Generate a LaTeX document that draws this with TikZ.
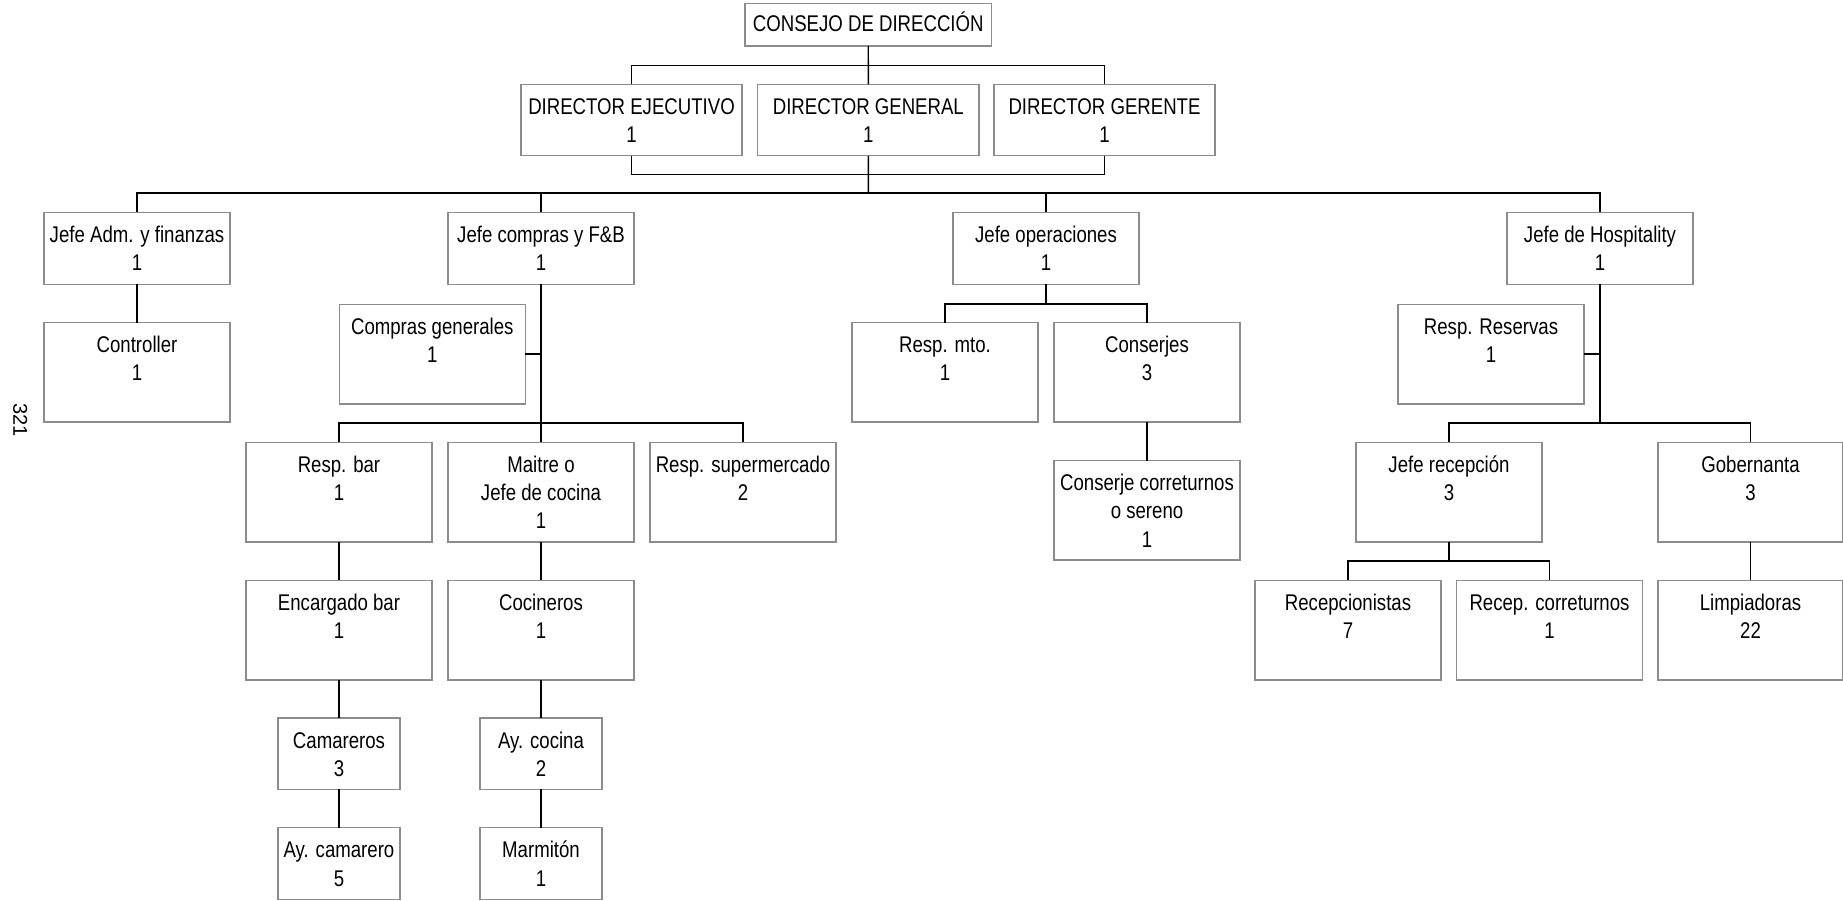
\documentclass[tikz,border=0pt]{standalone}
\usepackage{fontspec}
\setmainfont{Liberation Sans}[FakeStretch=0.82]
\newfontfamily\pagefont{Liberation Sans}
\usetikzlibrary{calc}
\definecolor{boxgray}{RGB}{140,140,140}

% org-chart box: name, left x, top y, width, height, text (top aligned)
\newcommand\orgbox[6]{%
  \node[obox, anchor=north west] (#1) at (#2,#3)
    {\parbox[t][#5pt][t]{#4pt}{\centering\rule{0pt}{30pt}#6}};}

\begin{document}
\begin{tikzpicture}[x=1pt, y=-1pt,
  obox/.style={draw=boxgray, line width=1.3pt, inner sep=0pt, outer sep=0pt,
               font=\fontsize{22.7}{28.2}\selectfont},
  conn/.style={draw=black, line width=1.4pt}]
\useasboundingbox (0,0) rectangle (1843,901);

% top levels
\node[obox, anchor=north west] (consejo) at (745,3.3)
  {\parbox[t][42.7pt][t]{246.5pt}{\centering\rule{0pt}{28.4pt}CONSEJO DE DIRECCIÓN}};
\orgbox{de}{521}{84.3}{221}{71.5}{DIRECTOR EJECUTIVO\\1}
\orgbox{dg}{757.7}{84.3}{221.3}{71.5}{DIRECTOR GENERAL\\1}
\orgbox{dger}{994}{84.3}{221}{71.5}{DIRECTOR GERENTE\\1}

% department heads
\orgbox{jadm}{44}{212.3}{186}{72}{Jefe Adm. y finanzas\\1}
\orgbox{jcomp}{448}{212.3}{186}{72}{Jefe compras y F\&B\\1}
\orgbox{jop}{953}{212.3}{186}{72}{Jefe operaciones\\1}
\orgbox{jhosp}{1507}{212.3}{186}{72}{Jefe de Hospitality\\1}

% administration
\orgbox{ctrl}{44}{322.6}{186}{99.4}{Controller\\1}

% purchasing and F&B
\orgbox{cg}{339.3}{304.3}{186}{99.7}{Compras generales\\1}
\orgbox{rbar}{246}{442.3}{186}{99.7}{Resp. bar\\1}
\orgbox{maitre}{448}{442.3}{186}{99.7}{Maitre o\\Jefe de cocina\\1}
\orgbox{rsup}{650}{442.3}{186}{99.7}{Resp. supermercado\\2}
\orgbox{ebar}{246}{580.3}{186}{99.7}{Encargado bar\\1}
\orgbox{coc}{448}{580.3}{186}{99.7}{Cocineros\\1}
\orgbox{cam}{278}{718}{122}{71.4}{Camareros\\3}
\orgbox{aycoc}{480}{718}{122}{71.4}{Ay. cocina\\2}
\orgbox{aycam}{278}{827.8}{122}{71.6}{Ay. camarero\\5}
\orgbox{marm}{480}{827.8}{122}{71.6}{Marmitón\\1}

% operations
\orgbox{rmto}{852}{322.7}{186}{99.3}{Resp. mto.\\1}
\orgbox{consj}{1054}{322.7}{186}{99.3}{Conserjes\\3}
\orgbox{cc}{1054}{460.7}{186}{99.3}{Conserje correturnos\\o sereno\\1}

% hospitality
\orgbox{rres}{1398}{304.3}{186}{99.7}{Resp. Reservas\\1}
\orgbox{jrec}{1356}{442.3}{186}{99.7}{Jefe recepción\\3}
\orgbox{gob}{1658}{442.3}{185}{99.7}{Gobernanta\\3}
\orgbox{recs}{1255}{580.3}{186}{99.7}{Recepcionistas\\7}
\orgbox{rcorr}{1456.5}{580.3}{186}{99.7}{Recep. correturnos\\1}
\orgbox{limp}{1658}{580.3}{185}{99.7}{Limpiadoras\\22}

% page number
\node[rotate=-90, inner sep=0pt, font=\pagefont\fontsize{20}{24}\selectfont] (pgnum) at (20.3,420) {321};

% bus junctions
\coordinate (tb) at (868.3,65.5);
\coordinate (db) at (868.3,174.5);
\coordinate (mb) at (868.3,193);
\coordinate (fb) at (541,423);
\coordinate (ob) at (1046,304);
\coordinate (hb) at (1600,423);
\coordinate (rb) at (1449,561);

% board to directors
\draw[conn] (consejo.south) -- (dg.north);
\draw[conn] (de.north) |- (tb) -| (dger.north);
\draw[conn] (de.south) |- (db) -| (dger.south);
\draw[conn] (dg.south) -- (mb);

% directors to department heads
\draw[conn] (jadm.north) |- (mb) -| (jhosp.north);
\draw[conn] (jcomp.north) -- (jcomp.north |- mb);
\draw[conn] (jop.north) -- (jop.north |- mb);

% administration
\draw[conn] (jadm.south) -- (ctrl.north);

% purchasing and F&B
\draw[conn] (jcomp.south) -- (maitre.north);
\draw[conn] (cg.east) -- (cg.east -| jcomp.south);
\draw[conn] (rbar.north) |- (fb) -| (rsup.north);
\draw[conn] (rbar.south) -- (ebar.north);
\draw[conn] (ebar.south) -- (cam.north);
\draw[conn] (cam.south) -- (aycam.north);
\draw[conn] (maitre.south) -- (coc.north);
\draw[conn] (coc.south) -- (aycoc.north);
\draw[conn] (aycoc.south) -- (marm.north);

% operations
\draw[conn] (jop.south) -- (ob);
\draw[conn] (rmto.north) |- (ob) -| (consj.north);
\draw[conn] (consj.south) -- (cc.north);

% hospitality
\draw[conn] (jhosp.south) -- (hb);
\draw[conn] (rres.east) -- (rres.east -| jhosp.south);
\draw[conn] (jrec.north) |- (hb) -| (gob.north);
\draw[conn] (jrec.south) -- (rb);
\draw[conn] (recs.north) |- (rb) -| (rcorr.north);
\draw[conn] (gob.south) -- (limp.north);
\end{tikzpicture}
\end{document}
